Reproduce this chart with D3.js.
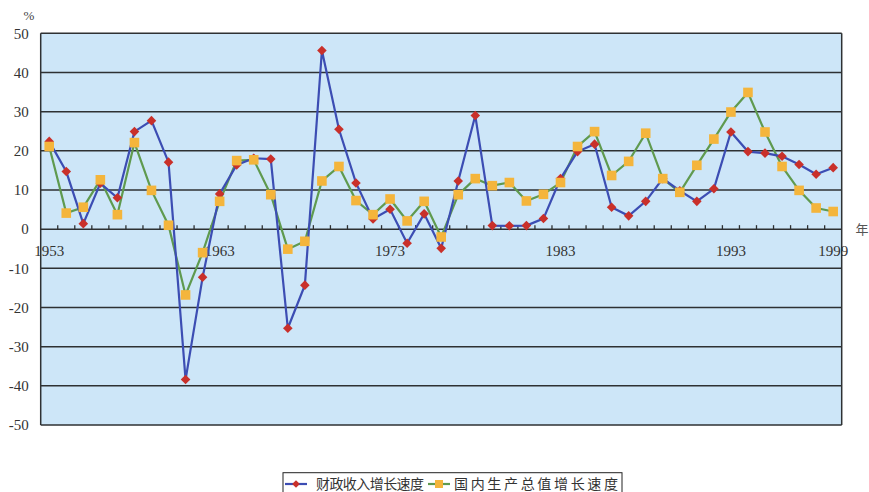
<!DOCTYPE html>
<html><head><meta charset="utf-8">
<script src="https://cdn.jsdelivr.net/npm/d3@7"></script>
<style>body{margin:0;background:#fff;} svg{display:block;}</style>
</head><body>
<svg id="c" width="869" height="492"></svg>
<script>
const years = d3.range(1953, 2000);
const revenue = [22.4,14.7,1.4,11.7,8.0,24.9,27.7,17.1,-38.4,-12.3,9.0,16.4,18.1,17.9,-25.3,-14.3,45.6,25.5,11.8,2.6,5.1,-3.6,3.9,-4.9,12.3,29.0,0.9,0.85,0.9,2.7,12.9,19.8,21.7,5.6,3.4,7.1,12.9,9.8,7.1,10.3,24.8,19.8,19.4,18.6,16.5,14.0,15.7];
const gdp = [21.1,4.1,5.6,12.6,3.7,22.1,9.9,1.0,-16.8,-6.0,7.1,17.5,17.7,8.8,-5.1,-3.1,12.3,16.0,7.3,3.7,7.7,2.1,7.1,-2.0,8.8,12.9,11.1,11.9,7.2,8.9,11.9,21.1,24.9,13.7,17.3,24.5,12.9,9.4,16.3,23.0,29.9,34.9,24.8,16.0,9.9,5.4,4.5];
const yTicks = [50,40,30,20,10,0,-10,-20,-30,-40,-50];
const xLabels = ["1953","1963","1973","1983","1993","1999"];
const seriesNames = ["财政收入增长速度","国内生产总值增长速度"];

const svg = d3.select("#c");
const L = 40.7, R = 841.7, T = 33.3, B = 425;
const x = d3.scaleBand().domain(years.map(String)).range([L, R]);
const y = d3.scaleLinear().domain([-50, 50]).range([B, T]);
const cx = yr => x(String(yr)) + x.bandwidth() / 2;

svg.append("rect").attr("x", L).attr("y", T).attr("width", R - L).attr("height", B - T)
  .attr("fill", "#cde6f8");

// gridlines
svg.append("g").selectAll("line").data(yTicks).join("line")
  .attr("x1", L).attr("x2", R).attr("y1", d => y(d)).attr("y2", d => y(d))
  .attr("stroke", "#2e3133").attr("stroke-width", 1.5);
// side borders
svg.append("line").attr("x1", L).attr("x2", L).attr("y1", T).attr("y2", B).attr("stroke", "#2e3133").attr("stroke-width", 1.5);
svg.append("line").attr("x1", R).attr("x2", R).attr("y1", T).attr("y2", B).attr("stroke", "#2e3133").attr("stroke-width", 1.5);

// y axis labels
const yAxis = d3.axisLeft(y).tickValues(yTicks).tickSize(0).tickPadding(12).tickFormat(d => String(d));
const gy = svg.append("g").attr("transform", `translate(${L},0)`).call(yAxis);
gy.select(".domain").remove();
gy.selectAll("text").attr("font-family", "Liberation Serif").attr("font-size", 15).attr("fill", "#333");

// x tick marks at category boundaries (upwards from zero line)
const bounds = years.slice(1).map(yr => x(String(yr)));
svg.append("g").selectAll("line").data(bounds).join("line")
  .attr("x1", d => d).attr("x2", d => d).attr("y1", y(0)).attr("y2", y(0) - 4)
  .attr("stroke", "#2e3133").attr("stroke-width", 1.3);

// x labels
svg.append("g").selectAll("text").data(xLabels).join("text")
  .attr("x", d => cx(+d)).attr("y", y(0) + 27).attr("text-anchor", "middle")
  .attr("font-family", "Liberation Serif").attr("font-size", 15).attr("fill", "#333")
  .text(d => d);

svg.append("text").attr("x", 29).attr("y", 20).attr("text-anchor", "middle")
  .attr("font-family", "Liberation Serif").attr("font-size", 13).attr("fill", "#444").text("%");
svg.append("text").attr("x", 862).attr("y", y(0) + 5).attr("text-anchor", "middle")
  .attr("font-family", "Noto Sans CJK SC").attr("font-size", 13).attr("fill", "#555").text("年");

const line = d3.line().x((d, i) => cx(years[i])).y(d => y(d));
const blue = "#3c4db3", red = "#c9302a", green = "#5f9a4f", orange = "#f4b53c";

svg.append("path").datum(gdp).attr("d", line).attr("fill", "none").attr("stroke", green).attr("stroke-width", 2.2);
svg.append("path").datum(revenue).attr("d", line).attr("fill", "none").attr("stroke", blue).attr("stroke-width", 2.2);

svg.append("g").selectAll("path").data(revenue).join("path")
  .attr("d", d3.symbol().type(d3.symbolSquare).size(46)())
  .attr("transform", (d, i) => `translate(${cx(years[i])},${y(d)}) rotate(45)`)
  .attr("fill", red);
svg.append("g").selectAll("rect").data(gdp).join("rect")
  .attr("x", (d, i) => cx(years[i]) - 4.8).attr("y", d => y(d) - 4.8)
  .attr("width", 9.6).attr("height", 9.6).attr("fill", orange);

// legend
const lg = svg.append("g");
lg.append("rect").attr("x", 283).attr("y", 472.7).attr("width", 339).attr("height", 24)
  .attr("fill", "#fff").attr("stroke", "#222").attr("stroke-width", 1);
const items = [
  {name: seriesNames[0], lx: 285, mx: 296, tx: 316, tw: 108, lc: blue, mc: red, shape: "d"},
  {name: seriesNames[1], lx: 428, mx: 439, tx: 454, tw: 164, lc: green, mc: orange, shape: "s"}
];
items.forEach(it => {
  lg.append("line").attr("x1", it.lx).attr("x2", it.lx + 22).attr("y1", 484).attr("y2", 484)
    .attr("stroke", it.lc).attr("stroke-width", 2.2);
  if (it.shape === "d") {
    lg.append("path").attr("d", d3.symbol().type(d3.symbolSquare).size(30)())
      .attr("transform", `translate(${it.mx},484) rotate(45)`).attr("fill", it.mc);
  } else {
    lg.append("rect").attr("x", it.mx - 4).attr("y", 480).attr("width", 8).attr("height", 8).attr("fill", it.mc);
  }
  lg.append("text").attr("x", it.tx).attr("y", 489).attr("font-family", "Noto Sans CJK SC")
    .attr("font-size", 14).attr("fill", "#333").attr("textLength", it.tw).attr("lengthAdjust", "spacing")
    .text(it.name);
});
</script>
</body></html>
